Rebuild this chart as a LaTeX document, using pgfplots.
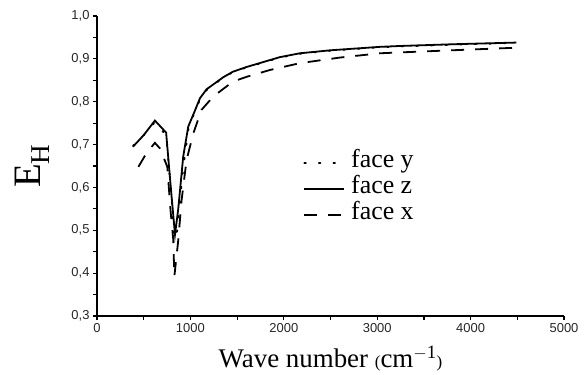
\documentclass[border=0pt]{standalone}
\usepackage{fontspec}
\setmainfont{Liberation Serif}
\newfontfamily\tickfont{Liberation Sans}
\usepackage{pgfplots}
\pgfplotsset{compat=1.18}
\begin{document}
\begin{tikzpicture}[x=1bp,y=1bp]
\path (-97,-55) rectangle (488,316);
\begin{axis}[
  at={(0,0)}, anchor=south west,
  scale only axis, width=467bp, height=300bp,
  xmin=0, xmax=5000, ymin=0.3, ymax=1.0,
  axis x line*=bottom, axis y line*=left,
  axis line style={line width=1.6bp, -},
  tick align=outside,
  major tick length=4bp, minor tick length=4bp,
  every tick/.style={line width=1.2bp, black},
  xtick={0,1000,...,5000}, minor x tick num=1,
  ytick={0.3,0.4,...,1.0}, minor y tick num=1,
  /pgf/number format/assume math mode=true,
  /pgf/number format/1000 sep={},
  yticklabel style={/pgf/number format/.cd, use comma, fixed, fixed zerofill, precision=1},
  tick label style={font=\tickfont\fontsize{13}{15}\selectfont, text=black!85},
  xlabel={Wave number {\fontsize{17}{19}\selectfont(}cm$^{\mathrm{-1}}${\fontsize{17}{19}\selectfont)}},
  xlabel style={font=\fontsize{27}{30}\selectfont, yshift=-7bp},
  ylabel={E$_{\mathrm{H}}$},
  ylabel style={font=\fontsize{39}{42}\selectfont, yshift=15bp},
  legend style={draw=none, fill=none, at={(0.435,0.555)}, anchor=north west,
    font=\fontsize{26}{28}\selectfont, row sep=4bp,
    nodes={inner sep=0pt, text height=16bp, text depth=6bp},
    legend cell align=left},
  every axis legend/.append style={/tikz/every even column/.append style={column sep=6bp}},
  legend image code/.code={\draw[#1] (0bp,0bp) -- (40bp,0bp);},
  clip=false,
]
\addplot[line width=1.8bp, black, dash pattern=on 1.6bp off 13bp, line cap=round] coordinates {
(385,0.697) (500,0.722) (620,0.752) (740,0.722) (790,0.60) (830,0.48) (860,0.50) (920,0.64) (980,0.738) (1050,0.778) (1102,0.805) (1173,0.827) (1351,0.856) (1455,0.869) (1601,0.880) (1958,0.903) (2172,0.912) (2500,0.919) (3028,0.927) (3241,0.929) (3800,0.933) (4490,0.937)
};
\addlegendentry{\hspace{6bp}face y}
\addplot[line width=1.8bp, black] coordinates {
(385,0.695) (500,0.722) (620,0.756) (740,0.728) (790,0.60) (835,0.49) (870,0.55) (923,0.672) (977,0.742) (1050,0.780) (1102,0.808) (1173,0.829) (1351,0.857) (1455,0.870) (1601,0.881) (1958,0.904) (2172,0.913) (2500,0.920) (3028,0.928) (3241,0.930) (3800,0.934) (4490,0.938)
};
\addlegendentry{\hspace{6bp}face z}
\addplot[line width=1.8bp, black, dash pattern=on 13bp off 11bp] coordinates {
(443,0.648) (530,0.680) (620,0.704) (674,0.691) (753,0.648) (787,0.547) (817,0.477) (828,0.392) (870,0.477) (906,0.571) (959,0.664) (1031,0.726) (1119,0.781) (1244,0.812) (1455,0.847) (1601,0.858) (1851,0.874) (2172,0.890) (2600,0.903) (3028,0.913) (3241,0.915) (3800,0.920) (4490,0.926)
};
\addlegendentry{\hspace{6bp}face x}
\end{axis}
\end{tikzpicture}
\end{document}
